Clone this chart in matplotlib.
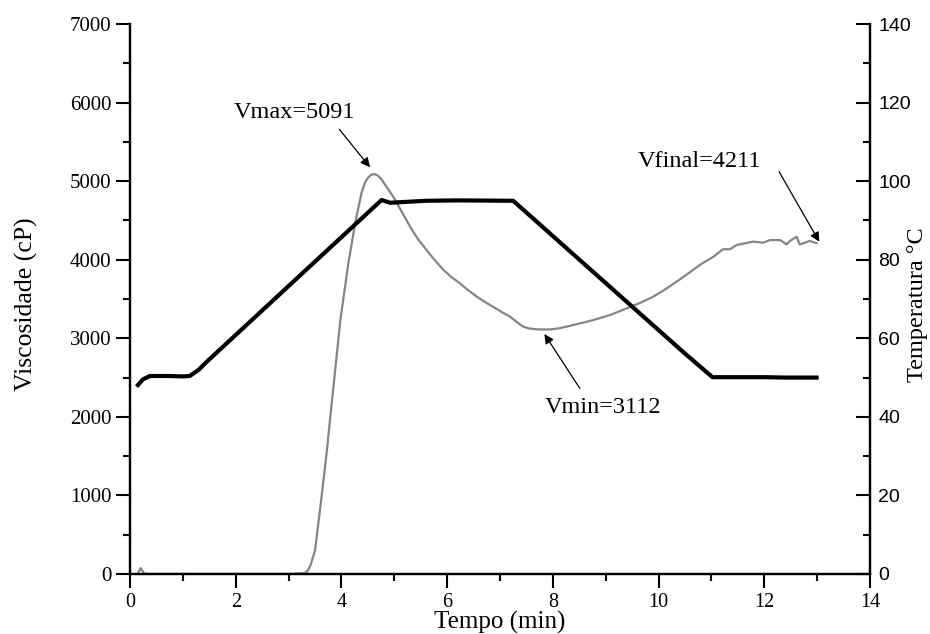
import numpy as np
import matplotlib.pyplot as plt
from matplotlib.ticker import MultipleLocator

# viscosity curve (cP), left axis
tempo_visc = [0.15, 0.2, 0.27, 0.35, 1.0, 2.0, 3.0, 3.3, 3.36, 3.42, 3.5, 3.61, 3.72, 3.85,
              3.98, 4.13, 4.26, 4.38, 4.45, 4.5, 4.56, 4.62, 4.68, 4.75, 4.85, 4.98, 5.15,
              5.30, 5.45, 5.61, 5.77, 5.93, 6.08, 6.24, 6.40, 6.56, 6.72, 6.87, 7.03,
              7.19, 7.32, 7.44, 7.55, 7.69, 7.82, 7.95, 8.1, 8.26, 8.38, 8.51, 8.64, 8.77,
              9.1, 9.40, 9.65, 9.90, 10.12, 10.34, 10.56, 10.78, 11.04, 11.22, 11.35,
              11.48, 11.79, 11.98, 12.11, 12.30, 12.42, 12.49, 12.61, 12.67, 12.86, 12.99]
viscosidade = [10, 75, 5, 0, 0, 0, 0, 10, 40, 120, 300, 900, 1540, 2390,
               3233, 3950, 4467, 4850, 4990, 5040, 5080, 5091, 5075, 5030, 4930, 4802, 4600,
               4420, 4260, 4124, 3990, 3870, 3780, 3700, 3610, 3530, 3460, 3400, 3335,
               3275, 3205, 3148, 3125, 3114, 3112, 3113, 3125, 3148, 3168, 3190, 3210, 3233,
               3300, 3382, 3450, 3530, 3620, 3720, 3825, 3933, 4040, 4133, 4133,
               4188, 4230, 4217, 4250, 4250, 4195, 4240, 4293, 4195, 4238, 4211]

# temperature profile (°C), right axis
tempo_temp = [0.15, 0.25, 0.38, 0.7, 1.0, 1.13, 1.3, 1.45, 4.76, 4.92, 5.6, 6.2, 7.25,
              10.5, 11.02, 12.0, 12.4, 12.99]
temperatura = [48.1, 49.6, 50.4, 50.4, 50.3, 50.4, 52.0, 54.0, 95.2, 94.5, 95.0, 95.1, 95.0,
               56.1, 50.1, 50.1, 50.0, 50.0]

serif = 'Liberation Serif'
sans = 'Liberation Sans'

fig = plt.figure(figsize=(9.3, 6.34), dpi=100)
ax = fig.add_axes([130/930, 60/634, 740/930, 550/634])
ax2 = ax.twinx()

ax.plot(tempo_visc, viscosidade, color='#858585', lw=1.6)
ax2.plot(tempo_temp, temperatura, color='black', lw=3.0)

ax.set_xlim(0, 14)
ax.set_ylim(0, 7000)
ax2.set_ylim(0, 140)

ax.xaxis.set_major_locator(MultipleLocator(2))
ax.xaxis.set_minor_locator(MultipleLocator(1))
ax.yaxis.set_major_locator(MultipleLocator(1000))
ax.yaxis.set_minor_locator(MultipleLocator(500))
ax2.yaxis.set_major_locator(MultipleLocator(20))
ax2.yaxis.set_minor_locator(MultipleLocator(10))

for a in (ax, ax2):
    a.spines['top'].set_visible(False)
    for s in a.spines.values():
        s.set_linewidth(1.6)

ax.tick_params(axis='both', which='major', direction='out', length=10, width=1.5)
ax.tick_params(axis='both', which='minor', direction='out', length=5, width=1.5)
ax.tick_params(axis='x', labelsize=14.5, pad=4)
ax.tick_params(axis='y', labelsize=15)
ax2.tick_params(axis='y', which='major', direction='in', length=10, width=1.5,
                labelsize=14, pad=6)
ax2.tick_params(axis='y', which='minor', direction='in', length=5, width=1.5)

for lab in ax.get_xticklabels() + ax.get_yticklabels():
    lab.set_fontfamily(serif)
for lab in ax2.get_yticklabels():
    lab.set_fontfamily(sans)

ax.set_xlabel('Tempo (min)', fontsize=18, fontfamily=serif)
ax.xaxis.set_label_coords(0.5, -0.068)
ax.set_ylabel('Viscosidade (cP)', fontsize=18.5, fontfamily=serif)
ax.yaxis.set_label_coords(-0.124, 0.49)
ax2.set_ylabel('Temperatura °C', fontsize=17.5, fontfamily=serif)
ax2.yaxis.set_label_coords(1.05, 0.49)

arrow = dict(arrowstyle='-|>', color='black', lw=0.9, mutation_scale=14, shrinkA=0, shrinkB=0)
ax.annotate('', xy=(4.54, 5177), xytext=(3.96, 5660), arrowprops=arrow)
ax.annotate('', xy=(7.84, 3054), xytext=(8.51, 2363), arrowprops=arrow)
ax.annotate('', xy=(13.04, 4229), xytext=(12.28, 5120), arrowprops=arrow)

ax.text(3.12, 5868, 'Vmax=5091', fontsize=17.5, fontfamily=serif, ha='center', va='center')
ax.text(8.95, 2113, 'Vmin=3112', fontsize=17.5, fontfamily=serif, ha='center', va='center')
ax.text(10.78, 5248, 'Vfinal=4211', fontsize=17.5, fontfamily=serif, ha='center', va='center')

fig.savefig('out.png', dpi=100)
